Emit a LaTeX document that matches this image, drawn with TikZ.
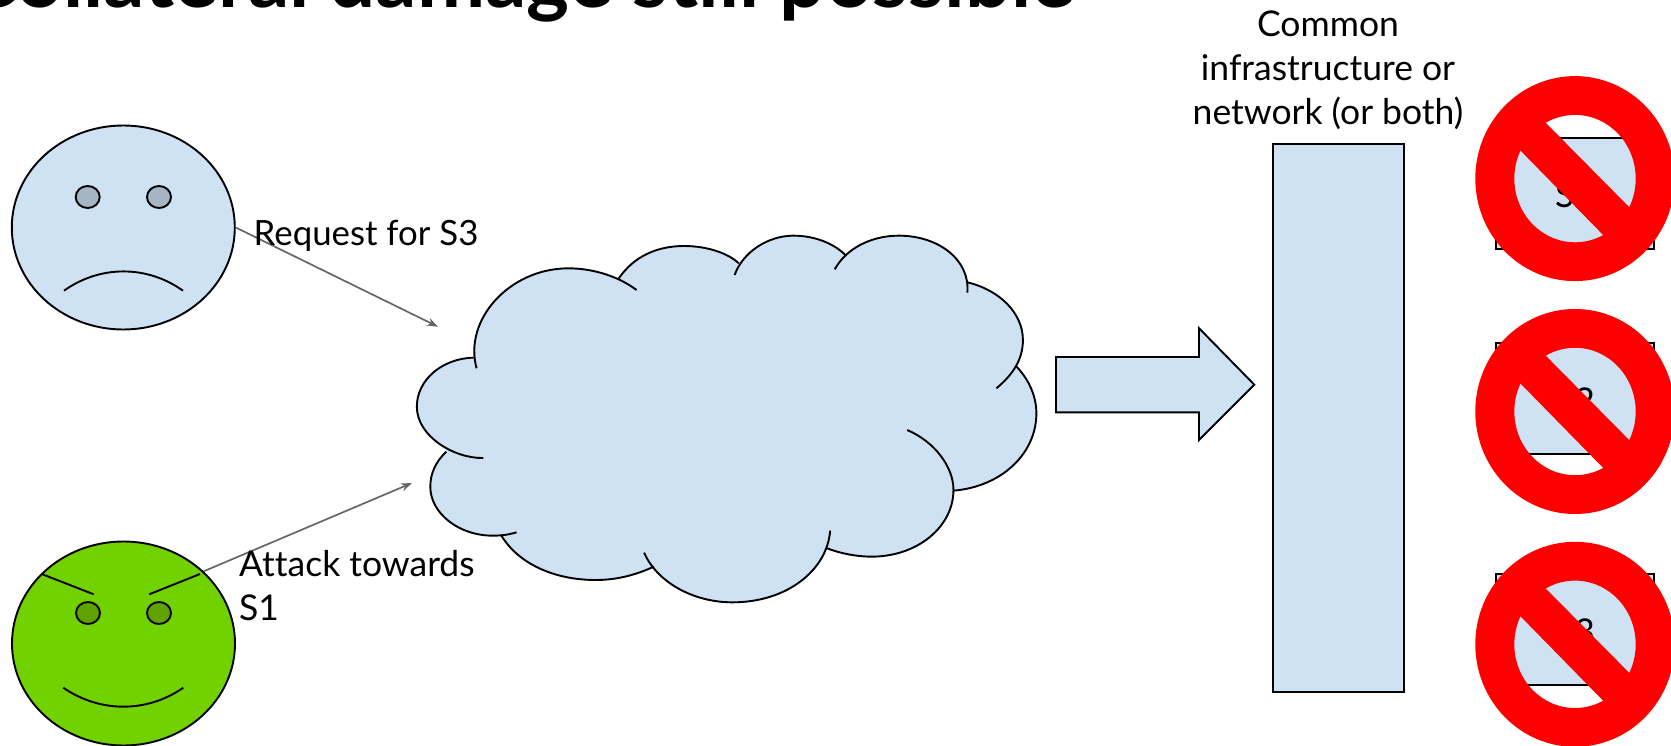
\documentclass[tikz,border=0pt]{standalone}
\usepackage{fontspec}
\setmainfont{Lato}[Ligatures=NoCommon]
\usetikzlibrary{shapes.geometric,arrows.meta}
\definecolor{paleblue}{HTML}{CFE2F3}
\definecolor{sadeye}{HTML}{A6B5C4}
\definecolor{evilgreen}{HTML}{71D200}
\definecolor{evileye}{HTML}{5FA300}
\definecolor{connector}{HTML}{666666}
\tikzset{
  outline/.style={draw=black,line width=1.9pt},
  face/.style={shape=ellipse,outline,inner sep=0pt,minimum width=223pt,minimum height=204pt},
  eye/.style={shape=ellipse,outline,inner sep=0pt,minimum width=24pt,minimum height=22pt},
  pointer/.style={draw=connector,line width=1.7pt,-{Stealth[length=11pt,width=8pt]}},
  label/.style={font=\fontsize{35.5}{44}\selectfont,inner sep=0pt,text=black},
  serverbox/.style={outline,fill=paleblue,minimum width=158.6pt,minimum height=111.3pt,inner sep=0pt},
  cloudfill/.style={fill=paleblue,draw=paleblue,line width=1pt},
}
\def\lobeA{(198,714) .. controls (130,716) and (40,650) .. (40,560) .. controls (40,480) and (100,415) .. (175,413)}
\def\lobeB{(182,445) .. controls (150,300) and (260,145) .. (400,145) .. controls (460,145) and (520,170) .. (562,210)}
\def\lobeC{(520,175) .. controls (555,110) and (610,78) .. (675,78) .. controls (730,78) and (780,100) .. (805,130)}
\def\lobeD{(795,165) .. controls (815,95) and (875,47) .. (935,47) .. controls (990,47) and (1035,75) .. (1058,105)}
\def\lobeE{(1033,148) .. controls (1060,85) and (1120,47) .. (1185,47) .. controls (1280,47) and (1355,120) .. (1348,218)}
\def\lobeF{(1348,187) .. controls (1425,210) and (1480,280) .. (1480,360) .. controls (1480,420) and (1455,465) .. (1417,505)}
\def\lobeG{(1465,440) .. controls (1495,480) and (1512,530) .. (1512,580) .. controls (1512,700) and (1430,800) .. (1315,812)}
\def\lobeH{(1205,630) .. controls (1270,665) and (1315,740) .. (1315,810) .. controls (1315,920) and (1230,1010) .. (1120,1010) .. controls (1085,1010) and (1045,1000) .. (1015,985)}
\def\lobeI{(1022,932) .. controls (1015,1050) and (920,1147) .. (790,1147) .. controls (695,1147) and (610,1085) .. (580,998)}
\def\lobeJ{(603,1040) .. controls (560,1065) and (515,1080) .. (465,1080) .. controls (365,1080) and (280,1030) .. (240,945)}
\def\lobeK{(277,937) .. controls (255,945) and (240,947) .. (220,947) .. controls (140,947) and (72,880) .. (72,800) .. controls (72,760) and (85,725) .. (110,695)}
\begin{document}
\begin{tikzpicture}[x=1pt,y=-1pt]
\useasboundingbox (0,0) rectangle (1671,746);
\clip (0,0) rectangle (1671,746);
% title
\node[anchor=base west,inner sep=0pt,font=\fontsize{81.5}{84}\selectfont\bfseries] (title) at (-37,8) {Collateral damage still possible};
% sad face
\node[face,fill=paleblue] (sadface) at (123.3,227.5) {};
\node[eye,fill=sadeye] (sadeyeL) at (87.7,197) {};
\node[eye,fill=sadeye] (sadeyeR) at (159,197) {};
\draw[outline] (64,290.7) .. controls (100,265) and (147,265) .. (183,290.7);
% evil face
\node[face,fill=evilgreen] (evilface) at (123.5,643.5) {};
\node[eye,fill=evileye] (evileyeL) at (88,613) {};
\node[eye,fill=evileye] (evileyeR) at (159,613) {};
\draw[outline] (41.7,574) -- (93.7,594.3);
\draw[outline] (200,574) -- (149.3,594.3);
\draw[outline] (63.3,687.7) .. controls (100,713) and (147,713) .. (183.3,687.7);
% connectors
\coordinate (reqend) at (438,326.7);
\coordinate (attend) at (412,483);
\draw[pointer] (sadface.east) -- (reqend);
\draw[pointer] (evilface.42) -- (attend);
% labels
\node[label,anchor=base west,font=\fontsize{34.8}{44}\selectfont] (reqlabel) at (253.5,246) {Request for S3};
\node[label,anchor=base west,align=left] (attlabel) at (239,620.5) {Attack towards\\S1};
% cloud
\begin{scope}[x=0.42088pt,y=-0.33333pt,xshift=400pt,yshift=-220pt]
\path[cloudfill] (175,413) -- (520,175) -- (805,130) -- (1058,105) -- (1348,187) -- (1465,440) -- (1315,812) -- (1015,985) -- (603,1040) -- (240,945) -- (110,695) -- cycle;
\path[cloudfill] \lobeA;
\path[cloudfill] \lobeB;
\path[cloudfill] \lobeC;
\path[cloudfill] \lobeD;
\path[cloudfill] \lobeE;
\path[cloudfill] \lobeF;
\path[cloudfill] \lobeG;
\path[cloudfill] \lobeH;
\path[cloudfill] \lobeI;
\path[cloudfill] \lobeJ;
\path[cloudfill] \lobeK;
\draw[outline] \lobeA;
\draw[outline] \lobeB;
\draw[outline] \lobeC;
\draw[outline] \lobeD;
\draw[outline] \lobeE;
\draw[outline] \lobeF;
\draw[outline] \lobeG;
\draw[outline] \lobeH;
\draw[outline] \lobeI;
\draw[outline] \lobeJ;
\draw[outline] \lobeK;
\end{scope}
% block arrow
\draw[outline,fill=paleblue] (1056,357) -- (1199,357) -- (1199,328.2) -- (1254.3,384.7) -- (1199,440) -- (1199,412.4) -- (1056,412.4) -- cycle;
% common infrastructure
\node[outline,fill=paleblue,minimum width=130.5pt,minimum height=547.6pt,inner sep=0pt] (common) at (1338.5,417.8) {};
\node[label,anchor=base,align=center] (commonlabel) at (1328,124.5) {Common\\infrastructure or\\network (or both)};
% servers
\node[serverbox] (s1) at (1575,193.3) {};
\node[serverbox] (s2) at (1575,398.7) {};
\node[serverbox] (s3) at (1575,629.5) {};
\node[label,anchor=base] (s1t) at (1575,208) {S1};
\node[label,anchor=base] (s2t) at (1575,413) {S2};
\node[label,anchor=base] (s3t) at (1575,644) {S3};
% prohibition signs
\foreach \cy in {178.6,411.5,644.3}{
  \fill[red,even odd rule] (1575,\cy) ellipse [x radius=99.7,y radius=102.5] (1575,\cy) ellipse [x radius=60.7,y radius=63.7];
  \fill[red] (1540,\cy-61.6) -- (1636,\cy+35.4) -- (1610,\cy+63.4) -- (1514,\cy-34.6) -- cycle;
}
\end{tikzpicture}
\end{document}
